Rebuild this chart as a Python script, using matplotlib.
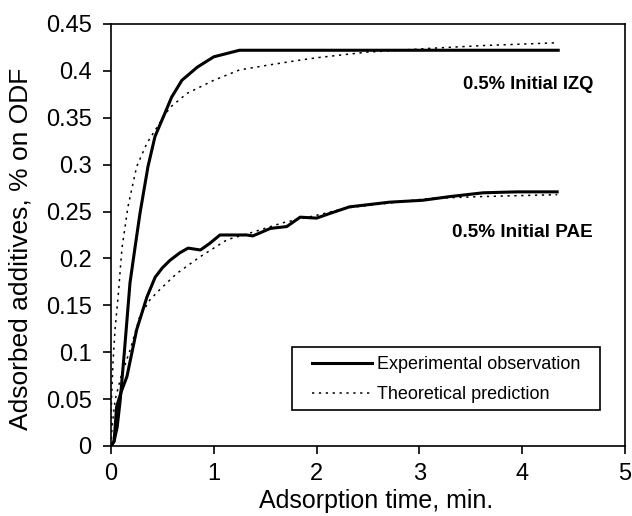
import matplotlib.pyplot as plt
import matplotlib.patches as mpatches
import numpy as np

plt.rcParams['font.family'] = ['Liberation Sans', 'DejaVu Sans']

# experimental observation, IZQ
t_izq_exp = [0, 0.03, 0.06, 0.09, 0.13, 0.185, 0.233, 0.282, 0.36, 0.428, 0.525, 0.59, 0.69,
             0.84, 1.0, 1.25, 2.0, 3.0, 4.35]
y_izq_exp = [0, 0.005, 0.02, 0.049, 0.1, 0.174, 0.211, 0.248, 0.298, 0.33, 0.355, 0.372, 0.39,
             0.404, 0.415, 0.422, 0.422, 0.422, 0.422]

# theoretical prediction, IZQ
t_izq_th = [0, 0.005, 0.02, 0.04, 0.07, 0.107, 0.165, 0.25, 0.35, 0.46, 0.574, 0.74, 1.0,
            1.25, 1.52, 1.81, 2.0, 2.49, 3.1, 3.62, 4.34]
y_izq_th = [0, 0.05, 0.09, 0.125, 0.16, 0.211, 0.255, 0.298, 0.323, 0.342, 0.361, 0.376, 0.39,
            0.401, 0.406, 0.411, 0.414, 0.42, 0.424, 0.427, 0.43]

# experimental observation, PAE
t_pae_exp = [0, 0.03, 0.055, 0.1, 0.155, 0.25, 0.35, 0.43, 0.5, 0.574, 0.67, 0.75, 0.87, 0.96,
             1.06, 1.32, 1.38, 1.55, 1.71, 1.84, 2.0, 2.13, 2.32, 2.71, 3.03, 3.3, 3.62, 3.95, 4.34]
y_pae_exp = [0, 0.005, 0.042, 0.058, 0.074, 0.124, 0.159, 0.18, 0.19, 0.198, 0.206, 0.211, 0.209,
             0.216, 0.225, 0.225, 0.224, 0.232, 0.234, 0.244, 0.243, 0.248, 0.255, 0.26, 0.262,
             0.266, 0.27, 0.271, 0.271]

# theoretical prediction, PAE
t_pae_th = [0, 0.01, 0.04, 0.1, 0.185, 0.28, 0.38, 0.477, 0.64, 0.87, 1.13, 1.38, 1.67, 2.0,
            2.3, 2.7, 3.1, 3.62, 4.34]
y_pae_th = [0, 0.02, 0.049, 0.075, 0.102, 0.138, 0.156, 0.167, 0.184, 0.202, 0.22, 0.228, 0.238,
            0.246, 0.254, 0.259, 0.264, 0.266, 0.268]

x_ticks = [0, 1, 2, 3, 4, 5]
y_ticks = [0, 0.05, 0.1, 0.15, 0.2, 0.25, 0.3, 0.35, 0.4, 0.45]
y_ticklabels = ['0', '0.05', '0.1', '0.15', '0.2', '0.25', '0.3', '0.35', '0.4', '0.45']

fig = plt.figure(figsize=(6.32, 5.16), dpi=100)
ax = fig.add_axes([0.1756, 0.1357, 0.8134, 0.8178])

dots = (0, (1.5, 3))
ax.plot(t_izq_exp, y_izq_exp, color='black', lw=2.2, label='Experimental observation')
ax.plot(t_izq_th, y_izq_th, color='black', lw=1.1, linestyle=dots, label='Theoretical prediction')
ax.plot(t_pae_exp, y_pae_exp, color='black', lw=2.2)
ax.plot(t_pae_th, y_pae_th, color='black', lw=1.1, linestyle=dots)

ax.set_xlim(0, 5)
ax.set_ylim(0, 0.45)
ax.set_xticks(x_ticks)
ax.set_yticks(y_ticks)
ax.set_yticklabels(y_ticklabels)
ax.tick_params(direction='out', length=6, width=1.2, labelsize=17)
ax.tick_params(axis='x', pad=6)
ax.tick_params(axis='y', pad=8)
for s in ax.spines.values():
    s.set_linewidth(1.2)

ax.set_xlabel('Adsorption time, min.', fontsize=18)
ax.set_ylabel('Adsorbed additives, % on ODF', fontsize=19)
ax.xaxis.set_label_coords(0.5165, -0.101)
ax.yaxis.set_label_coords(-0.152, 0.467)

ax.text(4.69, 0.386, '0.5% Initial IZQ', ha='right', va='center', fontsize=13.2, fontweight='bold')
ax.text(4.68, 0.228, '0.5% Initial PAE', ha='right', va='center', fontsize=13.6, fontweight='bold')

# legend box drawn by hand, legend itself without frame
box = mpatches.Rectangle((0.352, 0.0853), 0.599, 0.149, transform=ax.transAxes,
                         facecolor='white', edgecolor='black', lw=1.2, zorder=4)
ax.add_patch(box)
leg = ax.legend(loc='upper left', bbox_to_anchor=(0.391, 0.2125), frameon=False,
                fontsize=13, handlelength=3.3, handletextpad=0.3, labelspacing=0.72,
                borderpad=0, borderaxespad=0)
leg.set_zorder(5)

fig.savefig('out.png', dpi=100)
